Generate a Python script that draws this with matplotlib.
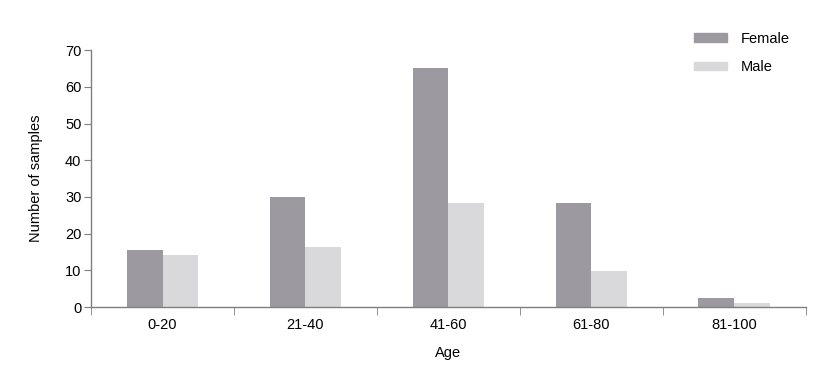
import numpy as np
import matplotlib.pyplot as plt
from matplotlib.patches import Patch

plt.rcParams['font.family'] = ['Liberation Sans', 'DejaVu Sans']

age_groups = ["0-20", "21-40", "41-60", "61-80", "81-100"]
female = [15.5, 30, 65, 28.3, 2.4]
male = [14.2, 16.4, 28.3, 9.9, 1.2]

female_color = "#9c9aa0"
male_color = "#d9d9db"
axis_color = "#7f7f7f"

fig = plt.figure(figsize=(8.28, 3.74), dpi=100)
ax = fig.add_axes([0.11, 0.179, 0.863, 0.687])

x = np.arange(len(age_groups))
w = 0.25
ax.bar(x - w / 2, female, width=w, color=female_color)
ax.bar(x + w / 2, male, width=w, color=male_color)

ax.set_xlim(-0.5, len(age_groups) - 0.5)
ax.set_ylim(0, 70)
ax.set_yticks(range(0, 71, 10))

ax.set_xticks(x)
ax.set_xticklabels(age_groups)
ax.set_xticks(np.arange(-0.5, len(age_groups), 1), minor=True)
ax.tick_params(axis="x", which="major", length=0, pad=8, labelsize=10.5)
ax.tick_params(axis="x", which="minor", length=6, color=axis_color, direction="out")
ax.tick_params(axis="y", length=5, color=axis_color, labelsize=10.5, pad=2)

for s in ["top", "right"]:
    ax.spines[s].set_visible(False)
for s in ["left", "bottom"]:
    ax.spines[s].set_color(axis_color)
    ax.spines[s].set_linewidth(1)

ax.set_xlabel("Age", fontsize=10.5, labelpad=10)
ax.set_ylabel("Number of samples", fontsize=10.5, labelpad=16)

handles = [Patch(color=female_color, label="Female"), Patch(color=male_color, label="Male")]
fig.legend(handles=handles, loc="upper left", bbox_to_anchor=(0.822, 0.95),
           frameon=False, fontsize=10.5, handlelength=2.3, handleheight=0.5,
           handletextpad=0.9, labelspacing=1.0)

fig.savefig("out.png", dpi=100)
